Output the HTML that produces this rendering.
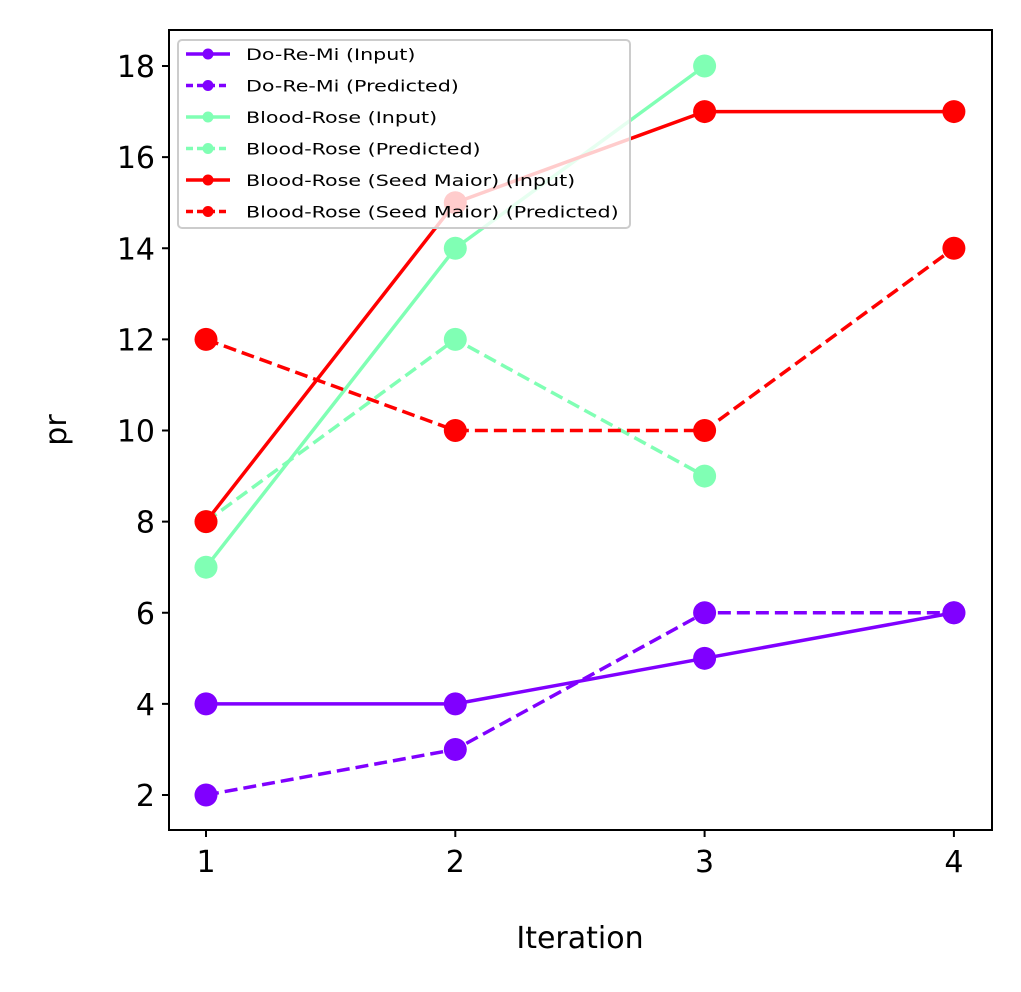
<!DOCTYPE html>
<html><head><meta charset="utf-8"><style>
body{margin:0;background:#fff;}
svg text{font-family:"DejaVu Sans","Liberation Sans",sans-serif;}
</style></head><body>
<svg id="chart" width="1021" height="987" xmlns="http://www.w3.org/2000/svg">
<rect width="1021" height="987" fill="#fff"/>
<g id="marks"></g>
<g id="axes"></g>
</svg>
<script>
const iterations=[1,2,3,4];
const doReMiInput=[4,4,5,6];
const doReMiPred=[2,3,6,6];
const bloodRoseInput=[7,14,18];
const bloodRosePred=[8,12,9];
const seedMaiorInput=[8,15,17,17];
const seedMaiorPred=[12,10,10,14];
const yTicks=[2,4,6,8,10,12,14,16,18];
const xTicks=[1,2,3,4];
const seriesNames=["Do-Re-Mi (Input)","Do-Re-Mi (Predicted)","Blood-Rose (Input)","Blood-Rose (Predicted)","Blood-Rose (Seed Maior) (Input)","Blood-Rose (Seed Maior) (Predicted)"];

const NS="http://www.w3.org/2000/svg";
const X=v=>206+(v-1)*249.3;
const Y=v=>795-(v-2)*45.5625;
function mk(tag,attrs,parent){const e=document.createElementNS(NS,tag);for(const k in attrs)e.setAttribute(k,attrs[k]);parent.appendChild(e);return e;}
const marks=document.getElementById('marks'),axes=document.getElementById('axes');
const series=[
 {d:doReMiInput,c:"#8000ff",dash:null,n:"do-re-mi-input"},
 {d:doReMiPred,c:"#8000ff",dash:"13,6",n:"do-re-mi-predicted"},
 {d:bloodRoseInput,c:"#80ffb4",dash:null,n:"blood-rose-input"},
 {d:bloodRosePred,c:"#80ffb4",dash:"13,6",n:"blood-rose-predicted"},
 {d:seedMaiorInput,c:"#ff0000",dash:null,n:"seed-maior-input"},
 {d:seedMaiorPred,c:"#ff0000",dash:"13,6",n:"seed-maior-predicted"}];
series.forEach(s=>{
 const g=mk('g',{},marks);
 
 
 const pts=s.d.map((v,i)=>X(iterations[i])+','+Y(v)).join(' ');
 const pl=mk('polyline',{points:pts,fill:'none',stroke:s.c,'stroke-width':3.5},g);
 if(s.dash)pl.setAttribute('stroke-dasharray',s.dash);
 
 
 s.d.forEach((v,i)=>{
  const c=mk('circle',{cx:X(iterations[i]),cy:Y(v),r:11.5,fill:s.c},g);
  
  
 });
});
const fr=mk('rect',{x:169,y:30,width:823,height:800,fill:'none',stroke:'#000','stroke-width':2},axes);


yTicks.forEach(t=>{
 mk('line',{x1:162,x2:169,y1:Y(t),y2:Y(t),stroke:'#000','stroke-width':2},axes);
 const tx=mk('text',{x:155,y:Y(t)+11,'text-anchor':'end','font-size':30},axes);
 tx.textContent=t;
 
 
});
xTicks.forEach(t=>{
 mk('line',{x1:X(t),x2:X(t),y1:830,y2:837,stroke:'#000','stroke-width':2},axes);
 const tx=mk('text',{x:X(t),y:872,'text-anchor':'middle','font-size':30},axes);
 tx.textContent=t;
 
 
});
const xl=mk('text',{x:580,y:948,'text-anchor':'middle','font-size':30},axes);
xl.textContent='Iteration';


const yl=mk('text',{x:66,y:430,'text-anchor':'middle','font-size':30,transform:'rotate(-90 66 430)'},axes);
yl.textContent='pr';


const lg=mk('g',{},axes);


mk('rect',{x:178,y:40,width:452,height:188,rx:4,fill:'#fff','fill-opacity':0.8,stroke:'#ccc','stroke-width':2},lg);
series.forEach((s,i)=>{
 const y=54+i*31.5;
 const e=mk('g',{},lg);
 
 
 const l=mk('line',{x1:186,x2:230,y1:y,y2:y,stroke:s.c,'stroke-width':3.5},e);
 if(s.dash)l.setAttribute('stroke-dasharray','7,4');
 mk('circle',{cx:208,cy:y,r:5.5,fill:s.c},e);
 const t=mk('text',{x:0,y:0,'font-size':16,transform:`translate(246 ${y+6}) scale(1.29 1)`},e);
 t.textContent=seriesNames[i];
});
</script>
</body></html>
